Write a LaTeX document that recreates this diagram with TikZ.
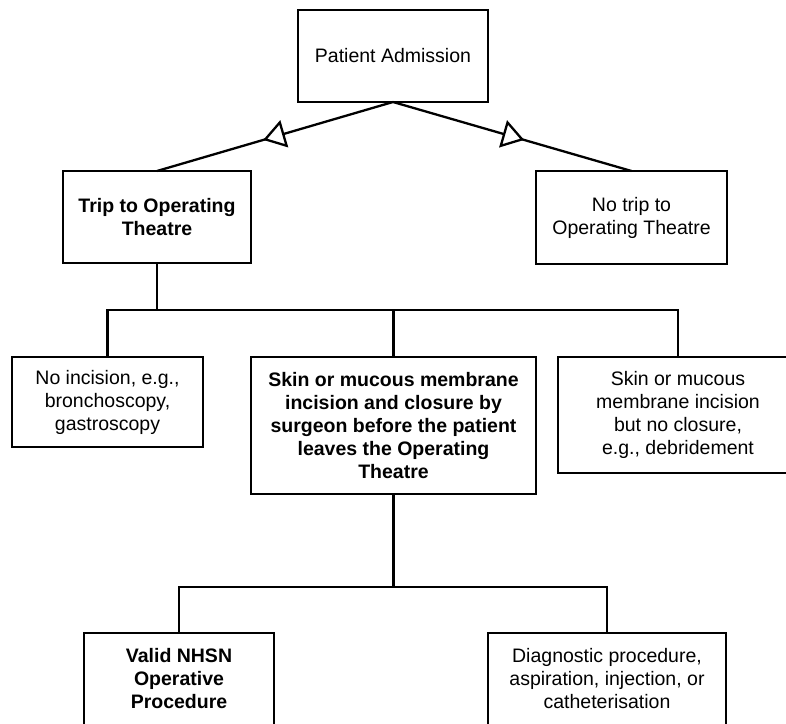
\documentclass[tikz,border=0pt]{standalone}
\usepackage{fontspec}
\setmainfont{Liberation Sans}
\usetikzlibrary{arrows.meta,decorations.markings}

\begin{document}
\begin{tikzpicture}[x=1pt, y=-1pt, line width=2.3pt,
    box/.style={draw, align=center, inner sep=0pt, outer sep=0pt,
      font=\fontsize{19.5}{23}\selectfont},
    bbox/.style={box, font=\fontsize{19.5}{23}\selectfont\bfseries},
    gen/.style={postaction={decorate}, decoration={markings,
        mark=at position 0.55 with {\arrow{Triangle[length=22pt,width=28pt,fill=white]}}}}]
  \clip (0,0) rectangle (786,723);

  % top level
  \node[box, minimum width=190pt, minimum height=92pt] (adm) at (393,56) {Patient Admission};
  \node[bbox, minimum width=188pt, minimum height=92pt] (trip) at (157,217) {Trip to Operating\\Theatre};
  \node[box, minimum width=191pt, minimum height=93pt] (notrip) at (631.5,217.5) {No trip to\\Operating Theatre};

  % incision level
  \node[box, minimum width=191pt, minimum height=90pt] (noinc) at (107.5,402) {No incision, e.g.,\\bronchoscopy,\\gastroscopy};
  \node[bbox, minimum width=285pt, minimum height=137pt] (skin) at (393.5,425.5)
    {Skin or mucous membrane\\incision and closure by\\surgeon before the patient\\leaves the Operating\\Theatre};
  \node[box, minimum width=240pt, minimum height=116pt] (noclose) at (678,415)
    {Skin or mucous\\membrane incision\\but no closure,\\e.g., debridement};

  % procedure level
  \node[bbox, minimum width=190pt, minimum height=92pt] (nhsn) at (179,679) {Valid NHSN\\Operative\\Procedure};
  \node[box, minimum width=238pt, minimum height=92pt] (diag) at (607,679)
    {Diagnostic procedure,\\aspiration, injection, or\\catheterisation};

  \draw[gen] (adm.south) -- (trip.north);
  \draw[gen] (adm.south) -- (notrip.north);

  \coordinate (bus1) at (157,310);
  \draw (trip.south) -- (bus1);
  \draw (noinc.north) |- (bus1) -| (noclose.north);
  \draw (skin.north) -- (skin.north |- bus1);

  \coordinate (bus2) at (393.5,587);
  \draw (skin.south) -- (bus2);
  \draw (nhsn.north) |- (bus2) -| (diag.north);
\end{tikzpicture}
\end{document}
